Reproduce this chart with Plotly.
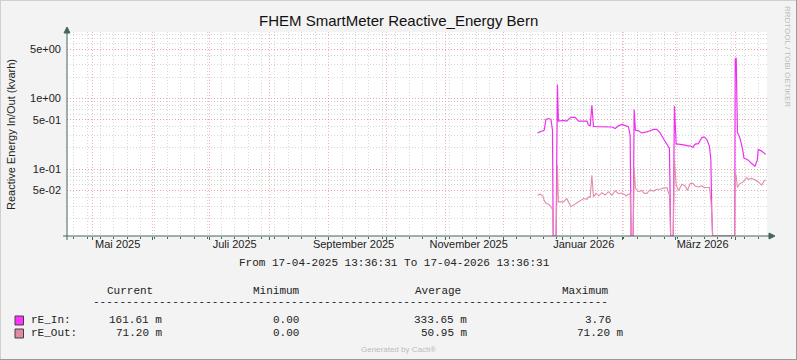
import plotly.graph_objects as go
import numpy as np

# ---------------- data ----------------
START = "2025-04-17 13:36:31"
END = "2026-04-17 13:36:31"

dates = [
    "2025-12-18 22:00", "2025-12-20 07:00", "2025-12-21 17:00", "2025-12-22 10:00",
    "2025-12-23 07:00", "2025-12-24 14:00", "2025-12-25 22:00", "2025-12-26 17:00",
    "2025-12-27 02:00", "2025-12-28 14:00", "2025-12-29 07:00", "2025-12-29 19:00",
    "2026-01-01 11:00", "2026-01-03 03:00", "2026-01-05 08:00", "2026-01-07 14:00",
    "2026-01-09 07:00", "2026-01-11 22:00", "2026-01-13 16:00", "2026-01-14 12:00",
    "2026-01-15 09:00", "2026-01-16 06:00", "2026-01-17 02:00", "2026-01-18 12:00",
    "2026-01-19 22:00", "2026-01-21 11:00", "2026-01-23 05:00", "2026-01-24 22:00",
    "2026-01-26 17:00", "2026-01-28 10:00", "2026-01-30 02:00", "2026-01-31 22:00",
    "2026-02-02 02:00", "2026-02-03 03:00", "2026-02-04 08:00", "2026-02-05 05:00",
    "2026-02-05 17:00", "2026-02-06 19:00", "2026-02-07 07:00", "2026-02-07 23:00",
    "2026-02-09 13:00", "2026-02-11 07:00", "2026-02-12 12:00", "2026-02-13 22:00",
    "2026-02-15 14:00", "2026-02-17 10:00", "2026-02-19 02:00", "2026-02-20 20:00",
    "2026-02-22 14:00", "2026-02-24 10:00", "2026-02-25 17:00", "2026-02-26 08:00",
    "2026-02-27 16:00", "2026-02-28 07:00", "2026-03-01 05:00", "2026-03-02 10:00",
    "2026-03-04 05:00", "2026-03-05 22:00", "2026-03-07 02:00", "2026-03-08 12:00",
    "2026-03-09 22:00", "2026-03-11 02:00", "2026-03-12 19:00", "2026-03-14 14:00",
    "2026-03-15 19:00", "2026-03-17 05:00", "2026-03-18 14:00", "2026-03-19 07:00",
    "2026-03-19 19:00", "2026-03-20 05:00", "2026-03-31 17:00", "2026-04-01 00:00",
    "2026-04-01 12:00", "2026-04-02 04:00", "2026-04-02 14:00", "2026-04-03 12:00",
    "2026-04-04 22:00", "2026-04-05 14:00", "2026-04-07 00:00", "2026-04-07 19:00",
    "2026-04-09 14:00", "2026-04-11 07:00", "2026-04-12 12:00", "2026-04-13 00:00",
    "2026-04-14 19:00", "2026-04-16 00:00", "2026-04-16 22:00",
]

rE_In = [
    0.326, 0.335, 0.345, 0.356, 0.505, 0.52, 0.505, 0.356,
    0, 0, 1.58, 0.48,
    0.49, 0.48, 0.54, 0.54, 0.477, 0.477, 0.477, 0.42,
    0.41, 0.80, 0.405, 0.40, 0.40, 0.40, 0.40, 0.40,
    0.395, 0.376, 0.41, 0.43,
    0.42, 0.41, 0.40, 0.30, 0, 0, 0.70, 0.356,
    0.35, 0.326, 0.33, 0.337, 0.35, 0.365, 0.365, 0.326,
    0.27, 0.219, 0.196, 0, 0, 0.78, 0.226, 0.226,
    0.224, 0.219, 0.214, 0.214, 0.203, 0.226, 0.23, 0.28,
    0.286, 0.263, 0.21, 0.134, 0.024, 0, 0, 3.6,
    3.76, 0.33, 0.313, 0.272, 0.186, 0.142, 0.138, 0.134,
    0.12, 0.11, 0.134, 0.19, 0.18, 0.167, 0.162,
]

rE_Out = [
    0.0429, 0.0443, 0.0416, 0.036, 0.0328, 0.0321, 0.0294, 0.027,
    0, 0, 0.114, 0.0345,
    0.0345, 0.0385, 0.0294, 0.032, 0.0345, 0.0385, 0.0374, 0.0406,
    0.040, 0.082, 0.0406, 0.0455, 0.042, 0.0465, 0.043, 0.048,
    0.043, 0.0495, 0.045, 0.046,
    0.044, 0.042, 0.0443, 0.045, 0, 0, 0.106, 0.0535,
    0.048, 0.050, 0.0455, 0.0455, 0.051, 0.049, 0.052, 0.052,
    0.054, 0.055, 0.0418, 0, 0, 0.137, 0.0595, 0.050,
    0.0614, 0.058, 0.050, 0.0627, 0.063, 0.058, 0.056, 0.058,
    0.055, 0.055, 0.055, 0.0365, 0.0237, 0, 0, 0.09,
    0.08, 0.055, 0.058, 0.0627, 0.065, 0.068, 0.0763, 0.072,
    0.074, 0.071, 0.068, 0.066, 0.0595, 0.068, 0.0712,
]

y_tickvals = [0.05, 0.1, 0.5, 1, 5]
y_ticktext = ["5e-02", "1e-01", "5e-01", "1e+00", "5e+00"]

x_label_vals = ["2025-05-14", "2025-07-14", "2025-09-14", "2025-11-13", "2026-01-12", "2026-03-15"]
x_label_text = ["Mai 2025", "Juli 2025", "September 2025", "November 2025", "Januar 2026", "März 2026"]

legend_names = ["rE_In:", "rE_Out:"]
stat_current = ["161.61 m", "71.20 m"]
stat_minimum = ["0.00", "0.00"]
stat_average = ["333.65 m", "50.95 m"]
stat_maximum = ["3.76", "71.20 m"]

# ---------------- style ----------------
IN_COLOR = "#EE30EE"
OUT_COLOR = "#E28CAC"
IN_BOX = "#FF33FF"
OUT_BOX = "#E08AA6"
AXIS_COLOR = "#456659"
BG = "#F3F3F3"
MAJOR_GRID = "rgba(235,120,120,0.55)"
MINOR_GRID = "rgba(150,150,150,0.38)"
DASH = "1px,2px"

W_IMG, H_IMG = 797, 360
L, R, T, B = 67, 767, 32, 236
PW, PH = R - L, B - T

Y_LOG_MIN, Y_LOG_MAX = -1.945, 0.94
FLOOR = 10 ** Y_LOG_MIN


def px(x):
    return (x - L) / PW


def py(y):
    return (B - y) / PH


plot_in = [v if v > 0 else FLOOR for v in rE_In]
plot_out = [v if v > 0 else FLOOR for v in rE_Out]

fig = go.Figure()
fig.add_trace(go.Scatter(x=dates, y=plot_in, mode="lines",
                         line=dict(color=IN_COLOR, width=1.2), name="rE_In",
                         showlegend=False))
fig.add_trace(go.Scatter(x=dates, y=plot_out, mode="lines",
                         line=dict(color=OUT_COLOR, width=1.1), name="rE_Out",
                         showlegend=False))
fig.add_trace(go.Scatter(x=[START], y=[1], xaxis="x2", mode="markers",
                         marker=dict(opacity=0), hoverinfo="skip", showlegend=False))

fig.update_layout(
    width=W_IMG, height=H_IMG,
    margin=dict(l=L, r=W_IMG - R, t=T, b=H_IMG - B, pad=0),
    paper_bgcolor=BG, plot_bgcolor="#FFFFFF",
    font=dict(family="Liberation Sans, Arial, sans-serif", size=11, color="#222222"),
    xaxis=dict(
        type="date", range=[START, END],
        tickmode="linear", tick0="2025-05-01", dtick="M1",
        showticklabels=False,
        showgrid=True, gridcolor=MAJOR_GRID, griddash=DASH, gridwidth=1,
        ticks="outside", ticklen=3, tickcolor=AXIS_COLOR,
        minor=dict(tick0="2025-04-21", dtick=7 * 86400000, showgrid=True,
                   gridcolor=MINOR_GRID, griddash=DASH,
                   ticks="outside", ticklen=2, tickcolor=AXIS_COLOR),
        showline=False, zeroline=False, fixedrange=True,
    ),
    xaxis2=dict(
        type="date", range=[START, END], overlaying="x", anchor="y", side="bottom",
        tickmode="array", tickvals=x_label_vals, ticktext=x_label_text,
        showgrid=False, ticks="", showline=False, zeroline=False,
        tickfont=dict(size=11, color="#222222"),
    ),
    yaxis=dict(
        type="log", range=[Y_LOG_MIN, Y_LOG_MAX],
        tickmode="array", tickvals=y_tickvals, ticktext=y_ticktext,
        showgrid=True, gridcolor=MAJOR_GRID, griddash=DASH,
        ticks="", ticklabelstandoff=5,
        minor=dict(dtick="D1", showgrid=True, gridcolor=MINOR_GRID, griddash=DASH),
        showline=False, zeroline=False,
        tickfont=dict(size=11, color="#222222"),
    ),
)

shapes = []
# image border
shapes.append(dict(type="line", xref="paper", yref="paper", x0=px(0), x1=px(W_IMG), y0=py(0.5), y1=py(0.5),
                   line=dict(color="#CFCFCF", width=1)))
shapes.append(dict(type="line", xref="paper", yref="paper", x0=px(0.5), x1=px(0.5), y0=py(0), y1=py(H_IMG),
                   line=dict(color="#CFCFCF", width=1)))
shapes.append(dict(type="line", xref="paper", yref="paper", x0=px(0), x1=px(W_IMG), y0=py(H_IMG - 0.5), y1=py(H_IMG - 0.5),
                   line=dict(color="#9A9A9A", width=1)))
shapes.append(dict(type="line", xref="paper", yref="paper", x0=px(W_IMG - 0.5), x1=px(W_IMG - 0.5), y0=py(0), y1=py(H_IMG),
                   line=dict(color="#9A9A9A", width=1)))
# axes with arrows
shapes.append(dict(type="line", xref="paper", yref="paper", x0=px(63), x1=px(770), y0=py(B), y1=py(B),
                   line=dict(color=AXIS_COLOR, width=1), layer="above"))
shapes.append(dict(type="line", xref="paper", yref="paper", x0=px(L), x1=px(L), y0=py(240), y1=py(30),
                   line=dict(color=AXIS_COLOR, width=1), layer="above"))
shapes.append(dict(type="path", xref="paper", yref="paper",
                   path=f"M {px(769)} {py(B - 3)} L {px(775)} {py(B)} L {px(769)} {py(B + 3)} Z",
                   fillcolor=AXIS_COLOR, line=dict(color=AXIS_COLOR, width=1), layer="above"))
shapes.append(dict(type="path", xref="paper", yref="paper",
                   path=f"M {px(L - 3)} {py(33)} L {px(L)} {py(27)} L {px(L + 3)} {py(33)} Z",
                   fillcolor=AXIS_COLOR, line=dict(color=AXIS_COLOR, width=1), layer="above"))
# legend boxes
for (y0, y1, col) in [(316, 325, IN_BOX), (329, 338, OUT_BOX)]:
    shapes.append(dict(type="rect", xref="paper", yref="paper",
                       x0=px(15), x1=px(23.5), y0=py(y1), y1=py(y0),
                       fillcolor=col, line=dict(color="#404040", width=1)))
fig.update_layout(shapes=shapes)

MONO = "Liberation Mono, Courier New, monospace"
ann = []


def txt(x, y, s, xanchor="left", size=11, family=MONO, color="#222222", angle=0):
    ann.append(dict(x=px(x), y=py(y), xref="paper", yref="paper", text=s, showarrow=False,
                    xanchor=xanchor, yanchor="middle", textangle=angle,
                    font=dict(family=family, size=size, color=color), borderpad=0, borderwidth=0))


txt(398, 21, "FHEM SmartMeter Reactive_Energy Bern", xanchor="center", size=15,
    family="Liberation Sans, Arial, sans-serif", color="#111111")
txt(11, 135, "Reactive Energy In/Out (kvarh)", xanchor="center", size=11,
    family="Liberation Sans, Arial, sans-serif", angle=-90)
txt(788, 56, "RRDTOOL / TOBI OETIKER", xanchor="center", size=8,
    family="Liberation Sans, Arial, sans-serif", color="#BBBBBB", angle=90)
txt(394, 263, "From 17-04-2025 13:36:31 To 17-04-2026 13:36:31", xanchor="center")
txt(107, 291, "Current")
txt(253, 291, "Minimum")
txt(415, 291, "Average")
txt(562, 291, "Maximum")
txt(93, 302, "-" * 78)
row_y = [320, 333]
cur_x = [109, 116]
min_x = [272.5, 272.5]
avg_x = [414, 421]
max_x = [585, 577]
for i in range(2):
    txt(31, row_y[i], legend_names[i])
    txt(cur_x[i], row_y[i], stat_current[i])
    txt(min_x[i], row_y[i], stat_minimum[i])
    txt(avg_x[i], row_y[i], stat_average[i])
    txt(max_x[i], row_y[i], stat_maximum[i])
txt(398, 349, "Generated by Cacti®", xanchor="center", size=8,
    family="Liberation Sans, Arial, sans-serif", color="#BBBBBB")
fig.update_layout(annotations=ann)

fig.write_html("out.html", config={"displayModeBar": False},
               post_script="document.body.style.margin='0';document.body.style.overflow='hidden';")
